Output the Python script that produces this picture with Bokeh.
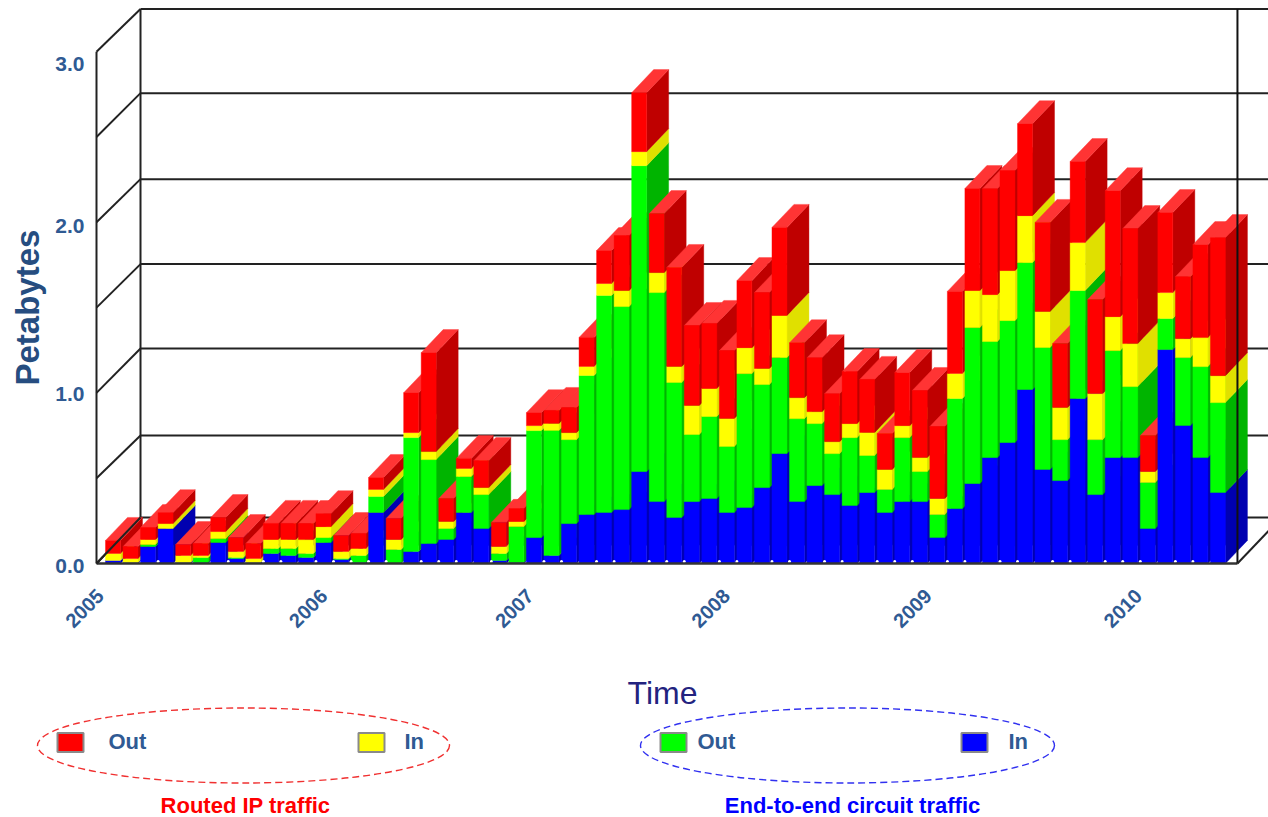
import math
from bokeh.core.properties import value
from bokeh.embed import file_html
from bokeh.models import FixedTicker, LinearAxis, Range1d, Title
from bokeh.plotting import figure
from bokeh.resources import INLINE

# Petabytes per month, Jan 2005 .. Apr 2010
circuit_in = [.018,.006,.100,.205,.006,.006,.123,.029,.006,.059,.047,.035,.123,.023,.006,.299,0,.070,.117,.141,.299,.205,.018,.006,.152,.047,.234,.287,.299,.316,.539,.363,.270,.363,.381,.299,.328,.445,.645,.363,.457,.404,.340,.416,.299,.363,.363,.152,.322,.469,.621,.709,1.020,.551,.486,.967,.404,.621,.621,.205,1.254,.809,.621,.416]
circuit_out = [0,0,.012,0,0,.029,.023,.006,0,.029,.041,.023,.029,.006,.041,.094,.082,.668,.492,.064,.211,.199,.041,.211,.627,.733,.492,.815,1.272,1.190,1.793,1.225,.791,.393,.481,.387,.785,.604,.563,.486,.363,.240,.398,.217,.135,.375,.176,.135,.645,.914,.680,.715,.744,.715,.240,.633,.322,.627,.416,.270,.182,.398,.533,.527]
routed_in = [.041,.023,.029,.029,.041,.012,.041,.035,.023,.053,.053,.082,.064,.041,.041,.041,.059,.029,.047,.041,.047,.041,.041,.029,.029,.041,.041,.053,.070,.094,.082,.117,.094,.170,.164,.164,.152,.094,.246,.123,.070,.070,.082,.135,.117,.070,.082,.094,.147,.217,.275,.293,.275,.211,.188,.281,.270,.199,.252,.064,.152,.111,.170,.158]
routed_out = [.076,.070,.070,.064,.064,.070,.082,.082,.088,.094,.094,.094,.076,.094,.088,.070,.123,.234,.580,.135,.059,.158,.141,.076,.076,.076,.147,.170,.193,.322,.346,.346,.580,.469,.381,.398,.393,.445,.516,.322,.316,.281,.305,.311,.211,.311,.393,.422,.481,.598,.621,.586,.539,.522,.375,.475,.551,.738,.674,.211,.469,.363,.545,.809]
assert len(circuit_in) == len(circuit_out) == len(routed_in) == len(routed_out) == 64

year_labels = ["2005", "2006", "2007", "2008", "2009", "2010"]
year_ticks = [-0.3, 12.45, 24.2, 35.4, 46.9, 58.9]
y_labels = ["0.0", "1.0", "2.0", "3.0"]
y_label_ticks = [-0.012, 0.996, 1.98, 2.93]
front_levels = [0, .5, 1, 1.5, 2, 2.5, 3]
back_levels = [.27, .75, 1.26, 1.755, 2.253, 2.757, 3.25]
dot_bars = [3,7,9,10,12,13,14,15,16,18,19,20,22,25,26,28,29,31,32,33,35,36,38,39,41,42,44,45,46,48,49,51,52,54,55,57,58,59,61,62]

FRONT = ["#0000FF", "#00FF00", "#FFFF00", "#FF0000"]
SIDE = ["#0000B0", "#00B400", "#E0E000", "#BF0000"]
TOP = "#FF3434"
LABEL = "#2F5A93"
FONT = "Liberation Sans"

BAR_W = 0.855      # months
DX, DY = 1.254, 0.135   # bar depth: months, PB
WALL_L, WALL_R, WALL_B = -0.513, 64.54, 2.509  # front-left x, front-right x, wall depth x

W, H_TOP, H_BOT = 1268, 650, 167
p = figure(width=W, height=H_TOP, output_backend="svg", toolbar_location=None,
           x_range=Range1d(-0.741, 66.31), y_range=Range1d(-0.0176, 3.3001),
           x_axis_type=None, y_axis_type=None, min_border_left=92, min_border_right=0,
           min_border_top=0, min_border_bottom=84, outline_line_color=None, background_fill_color="white")
p.grid.visible = False

yax = LinearAxis(ticker=FixedTicker(ticks=y_label_ticks),
                 major_label_overrides=dict(zip(y_label_ticks, y_labels)),
                 axis_line_color=None, major_tick_line_color=None, minor_tick_line_color=None,
                 major_label_text_font=FONT, major_label_text_font_style="bold",
                 major_label_text_font_size="21px", major_label_text_color=LABEL,
                 major_label_standoff=2)
p.add_layout(yax, "left")
xax = LinearAxis(ticker=FixedTicker(ticks=year_ticks),
                 major_label_overrides=dict(zip(year_ticks, year_labels)),
                 axis_line_color=None, major_tick_line_color=None, minor_tick_line_color=None,
                 major_label_text_font=FONT, major_label_text_font_style="bold",
                 major_label_text_font_size="20px", major_label_text_color=LABEL,
                 major_label_orientation=math.pi / 4, major_label_standoff=20)
p.add_layout(xax, "below")

p.add_layout(Title(text="Petabytes", align="left", offset=181, standoff=13, text_font=FONT,
                   text_font_style="bold", text_font_size="33px", text_color="#264D80"), "left")

GRID = "#222222"
back_x = WALL_L + WALL_B
# back wall
p.segment(x0=[back_x] * 7, y0=back_levels, x1=[70] * 7, y1=back_levels, line_color=GRID, line_width=2)
p.segment(x0=[back_x], y0=[back_levels[0]], x1=[back_x], y1=[back_levels[-1]], line_color=GRID, line_width=2)
# left wall
p.segment(x0=[WALL_L] * 7, y0=front_levels, x1=[back_x] * 7, y1=back_levels, line_color=GRID, line_width=2)
p.segment(x0=[WALL_L], y0=[0], x1=[WALL_L], y1=[3], line_color=GRID, line_width=2)

# bars, drawn left to right so each one overlaps its neighbour's side
xs, ys, cols = [], [], []
def add(poly_x, poly_y, c):
    xs.append(poly_x); ys.append(poly_y); cols.append(c)

for i, segs in enumerate(zip(circuit_in, circuit_out, routed_in, routed_out)):
    x0, x1 = i, i + BAR_W
    base = 0.0
    for k, v in enumerate(segs):
        if v > 0:
            t = base + v
            add([x1, x1 + DX, x1 + DX, x1], [base, base + DY, t + DY, t], SIDE[k])
        base += v
    add([x0, x1, x1 + DX, x0 + DX], [base, base, base + DY, base + DY], TOP)
    base = 0.0
    for k, v in enumerate(segs):
        if v > 0:
            t = base + v
            add([x0, x1, x1, x0], [base, base, t, t], FRONT[k])
        base += v

p.patches(xs, ys, fill_color=cols, line_color=cols, line_width=0.4)

p.scatter(x=dot_bars, y=[0.012] * len(dot_bars), size=3, marker="circle", fill_color="white", line_color=None)

# floor and front-right edge on top of the bars
p.segment(x0=[WALL_L], y0=[0], x1=[WALL_R], y1=[0], line_color="#333333", line_width=2.5)
p.segment(x0=[WALL_R], y0=[0], x1=[WALL_R], y1=[back_levels[-1]], line_color="#111111", line_width=2)
p.segment(x0=[WALL_R], y0=[0], x1=[WALL_R + WALL_B], y1=[back_levels[0]], line_color=GRID, line_width=2)
p.segment(x0=[WALL_L], y0=[0], x1=[back_x], y1=[back_levels[0]], line_color=GRID, line_width=2)

# lower panel: page-pixel coordinate system
q = figure(width=W, height=H_BOT, output_backend="svg", toolbar_location=None,
           x_range=Range1d(0, 1268), y_range=Range1d(817, 650), x_axis_type=None, y_axis_type=None,
           min_border=0, outline_line_color=None)
q.grid.visible = False

q.ellipse(x=[243], y=[745], width=[412], height=[75], fill_color=None, line_color="#F03030", line_width=1.4, line_dash="7 4")
q.ellipse(x=[847], y=[745], width=[414], height=[75], fill_color=None, line_color="#3030F0", line_width=1.4, line_dash="7 4")

swatch_x = [70, 371, 673, 974]
swatch_c = ["#FF0000", "#FFFF00", "#00FF00", "#0000FF"]
q.rect(x=swatch_x, y=[742] * 4, width=[26] * 4, height=[19] * 4, fill_color=swatch_c, line_color="#8A8A8A", line_width=2)

legend_labels = ["Out", "In", "Out", "In"]
legend_x = [108, 404, 697, 1008]
q.text(x=legend_x, y=[741] * 4, text=legend_labels, text_font=value(FONT), text_font_style="bold",
       text_font_size="22px", text_color=LABEL, text_baseline="middle", text_align="left")
q.text(x=[245], y=[805], text=["Routed IP traffic"], text_font=value(FONT), text_font_style="bold",
       text_font_size="22px", text_color="#FF0000", text_baseline="middle", text_align="center")
q.text(x=[852], y=[805], text=["End-to-end circuit traffic"], text_font=value(FONT), text_font_style="bold",
       text_font_size="22px", text_color="#0000FF", text_baseline="middle", text_align="center")
q.text(x=[662], y=[692], text=["Time"], text_font=value(FONT),
       text_font_size="32px", text_color="#23237F", text_baseline="middle", text_align="center")

open("out.html", "w").write(file_html((p, q), INLINE))
